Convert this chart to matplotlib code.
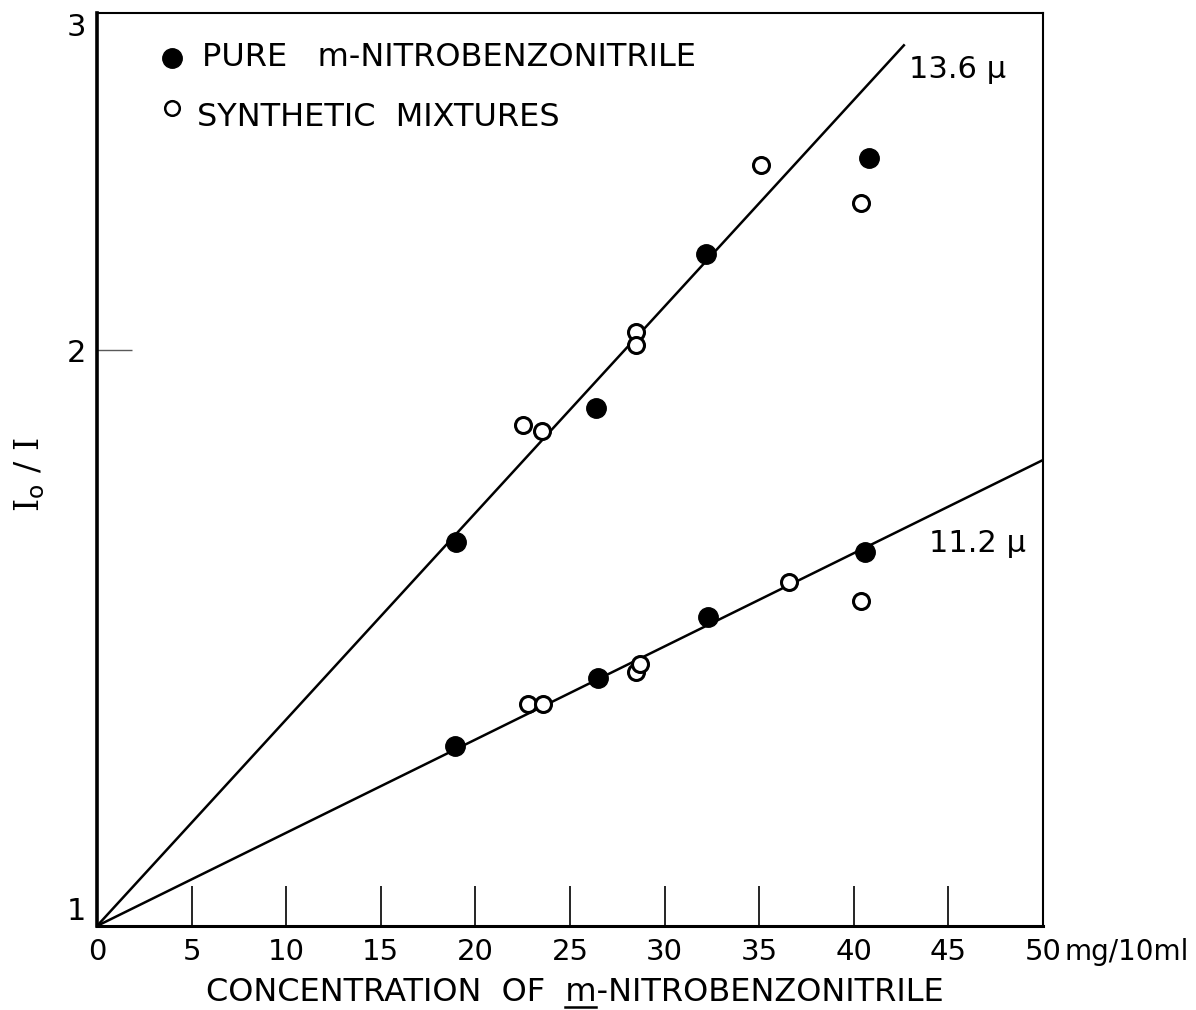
import matplotlib.pyplot as plt
from matplotlib.ticker import FixedLocator, NullFormatter
from matplotlib.lines import Line2D
from matplotlib.transforms import IdentityTransform

# 13.6 micron band
x_136_pure = [19.0, 26.4, 32.2, 40.8]
y_136_pure = [1.587, 1.865, 2.246, 2.521]
x_136_mix = [22.5, 23.5, 28.5, 28.5, 35.1, 40.4]
y_136_mix = [1.827, 1.814, 2.044, 2.012, 2.500, 2.386]
line_136_x = [0, 42.65]
line_136_y = [1.0, 2.886]

# 11.2 micron band
x_112_pure = [18.9, 26.5, 32.3, 40.6]
y_112_pure = [1.242, 1.347, 1.451, 1.568]
x_112_mix = [22.8, 23.6, 28.5, 28.7, 36.6, 40.4]
y_112_mix = [1.307, 1.307, 1.357, 1.371, 1.512, 1.478]
line_112_x = [0, 50]
line_112_y = [1.0, 1.752]

x_ticks = [0, 5, 10, 15, 20, 25, 30, 35, 40, 45, 50]
x_labels = ['0', '5', '10', '15', '20', '25', '30', '35', '40', '45', '50']

fig = plt.figure(figsize=(11.96, 10.10), dpi=100)
ax = fig.add_axes([0.0811, 0.0832, 0.872 - 0.0811, 0.987 - 0.0832])

ax.set_yscale('log')
ax.set_xlim(0, 50)
ax.set_ylim(1, 3)

ax.plot(line_136_x, line_136_y, color='black', lw=1.8)
ax.plot(line_112_x, line_112_y, color='black', lw=1.8)

for xs, ys in [(x_136_pure, y_136_pure), (x_112_pure, y_112_pure)]:
    ax.plot(xs, ys, 'o', ms=14, color='black', zorder=3)
for xs, ys in [(x_136_mix, y_136_mix), (x_112_mix, y_112_mix)]:
    ax.plot(xs, ys, 'o', ms=11.5, mfc='white', mec='black', mew=2.2, zorder=3)

# spines
ax.spines['left'].set_linewidth(2.6)
ax.spines['bottom'].set_linewidth(2.2)
ax.spines['top'].set_linewidth(1.5)
ax.spines['right'].set_linewidth(1.5)

# x ticks
ax.set_xticks(x_ticks)
ax.set_xticklabels(x_labels, fontsize=21)
ax.tick_params(axis='x', direction='in', length=29, width=1.2, pad=9)
ax.xaxis.get_major_ticks()[-1].tick1line.set_visible(False)

# y ticks (only a faint inner mark at 2)
ax.yaxis.set_major_locator(FixedLocator([1, 2, 3]))
ax.set_yticklabels(['1', '2', '3'], fontsize=22)
ax.tick_params(axis='y', which='major', length=0, pad=8)
ax.yaxis.remove_overlapping_locs = False
ax.yaxis.set_minor_locator(FixedLocator([2]))
ax.yaxis.set_minor_formatter(NullFormatter())
ax.tick_params(axis='y', which='minor', direction='in', length=25, width=1.0, color='0.35')
ylabs = ax.get_yticklabels()
ylabs[0].set_va('bottom')
ylabs[2].set_va('top')

# unit after the last tick label
ax.text(51.15, -0.0137, 'mg/10ml', fontsize=20, ha='left', va='top',
        transform=ax.get_xaxis_transform(), clip_on=False)

# axis titles
xlab_pre = 'CONCENTRATION  OF  '
xlab = xlab_pre + 'm-NITROBENZONITRILE'
xl = fig.text((97 + 0.505 * 946) / 1196, 9 / 1010, xlab, fontsize=23,
              ha='center', va='baseline')
fig.text(30 / 1196, 1 - 475 / 1010, r'I$_\mathrm{o}$ / I', fontsize=24,
         family='DejaVu Serif', rotation=90, ha='center', va='center')

# legend drawn by hand
ax.plot([0.079], [0.951], 'o', ms=14, color='black', transform=ax.transAxes, clip_on=False)
ax.text(0.111, 0.951, 'PURE   m-NITROBENZONITRILE', fontsize=23, va='center',
        transform=ax.transAxes)
ax.plot([0.079], [0.896], 'o', ms=10.5, mfc='white', mec='black', mew=1.8,
        transform=ax.transAxes, clip_on=False)
ax.text(0.106, 0.886, 'SYNTHETIC  MIXTURES', fontsize=23, va='center',
        transform=ax.transAxes)

# band labels
ax.text(42.9, 2.803, '13.6 μ', fontsize=22, va='center')
ax.text(44.0, 1.585, '11.2 μ', fontsize=22, va='center')

# underline the "m" in the x label
fig.canvas.draw()
renderer = fig.canvas.get_renderer()
bb = xl.get_window_extent(renderer)
prop = xl.get_fontproperties()
w_pre = renderer.get_text_width_height_descent(xlab_pre, prop, ismath=False)[0]
w_m = renderer.get_text_width_height_descent('m', prop, ismath=False)[0]
x0 = bb.x0 + w_pre
y0 = 3
fig.add_artist(Line2D([x0, x0 + w_m], [y0, y0], color='black', lw=1.8,
                      transform=IdentityTransform()))

fig.savefig('out.png', dpi=100)
